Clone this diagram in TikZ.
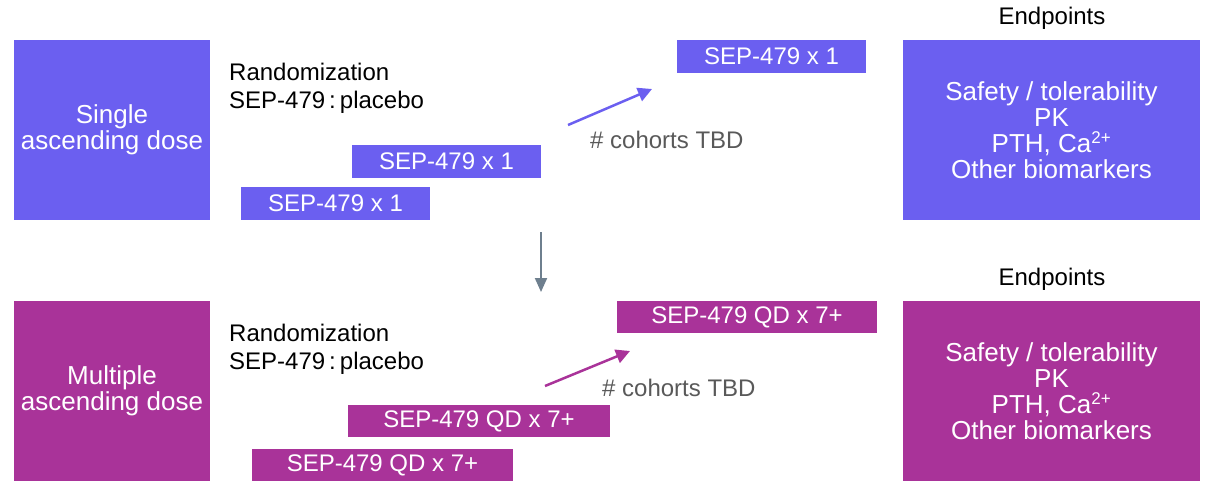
\documentclass[tikz,border=0pt]{standalone}
\usepackage{fontspec}
\setmainfont{Liberation Sans}
\usetikzlibrary{arrows.meta}
\definecolor{sadc}{RGB}{107,95,240}
\definecolor{madc}{RGB}{169,51,153}
\definecolor{arrgray}{RGB}{110,127,142}
\definecolor{txtgray}{RGB}{89,89,89}
\tikzset{
  bigbox/.style={fill=#1, text=white, inner sep=0pt, outer sep=0pt, anchor=north west,
    align=center, font=\fontsize{26}{26}\selectfont},
  bar/.style={fill=#1, text=white, inner sep=0pt, outer sep=0pt, anchor=north west,
    font=\fontsize{24}{26}\selectfont},
  lbl/.style={inner sep=0pt, font=\fontsize{24}{26}\selectfont},
  cohort/.style={lbl, text=txtgray, anchor=west},
  diag/.style={line width=2.5pt, -{Triangle[length=14pt,width=14pt]}},
}
\newcommand{\twoplus}{\textsuperscript{\fontsize{17}{17}\selectfont 2+}}
\begin{document}
\begin{tikzpicture}[x=1pt,y=-1pt]
\useasboundingbox (0,0) rectangle (1206,481);
% ---------- top row ----------
\node[bigbox=sadc, minimum width=196pt, minimum height=180pt] (sad) at (14,40) {Single\\ascending dose};
\node[lbl, anchor=base west] (rand1) at (229,81) {Randomization};
\node[lbl, anchor=base west] (plac1) at (229,109) {SEP-479\,:\,placebo};
\node[bar=sadc, minimum width=189pt, minimum height=33pt] (b1c) at (677,40) {SEP-479 x 1};
\node[bar=sadc, minimum width=189pt, minimum height=33pt] (b1b) at (352,145) {SEP-479 x 1};
\node[bar=sadc, minimum width=189pt, minimum height=33pt] (b1a) at (241,187) {SEP-479 x 1};
\coordinate (a1s) at (568,125);
\coordinate (a1e) at (652,89);
\draw[diag, draw=sadc, fill=sadc] (a1s) -- (a1e);
\node[cohort] (coh1) at (590,140) {\# cohorts TBD};
\node[lbl] (ep1) at (1052,18) {Endpoints};
\node[bigbox=sadc, minimum width=297pt, minimum height=180pt] (end1) at (903,40)
  {Safety / tolerability\\PK\\PTH, Ca\twoplus\\Other biomarkers};
% ---------- transition arrow ----------
\coordinate (gs) at (541,232);
\coordinate (ge) at (541,292);
\draw[line width=2pt, draw=arrgray, -{Triangle[length=14pt,width=12pt]}] (gs) -- (ge);
% ---------- bottom row ----------
\node[bigbox=madc, minimum width=196pt, minimum height=180pt] (mad) at (14,301) {Multiple\\ascending dose};
\node[lbl, anchor=base west] (rand2) at (229,341) {Randomization};
\node[lbl, anchor=base west] (plac2) at (229,369) {SEP-479\,:\,placebo};
\node[bar=madc, minimum width=260pt, minimum height=32pt] (b2c) at (617,301) {SEP-479 QD x 7+};
\node[bar=madc, minimum width=262pt, minimum height=32pt] (b2b) at (348,405) {SEP-479 QD x 7+};
\node[bar=madc, minimum width=261pt, minimum height=32pt] (b2a) at (252,449) {SEP-479 QD x 7+};
\coordinate (a2s) at (545,386);
\coordinate (a2e) at (630,351);
\draw[diag, draw=madc, fill=madc] (a2s) -- (a2e);
\node[cohort] (coh2) at (602,388) {\# cohorts TBD};
\node[lbl] (ep2) at (1052,279) {Endpoints};
\node[bigbox=madc, minimum width=297pt, minimum height=180pt] (end2) at (903,301)
  {Safety / tolerability\\PK\\PTH, Ca\twoplus\\Other biomarkers};
\end{tikzpicture}
\end{document}
